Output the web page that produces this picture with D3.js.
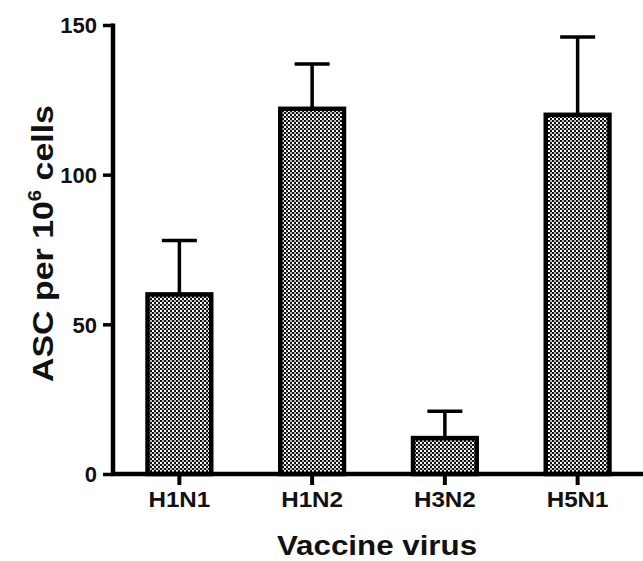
<!DOCTYPE html>
<html><head><meta charset="utf-8">
<script src="https://cdn.jsdelivr.net/npm/d3@7"></script>
<style>body{margin:0;background:#fff}svg{display:block}text{font-family:"Liberation Sans",Arial,sans-serif;font-weight:bold;fill:#111}</style>
</head><body>
<script>
const categories = ["H1N1","H1N2","H3N2","H5N1"];
const means = [60,122,12,120];
const upperErr = [78,137,21,146];
const yTicks = [0,50,100,150];

const W=643,H=561;
const svg=d3.select("body").append("svg").attr("width",W).attr("height",H);
const defs=svg.append("defs");
const pat=defs.append("pattern").attr("id","chk").attr("patternUnits","userSpaceOnUse").attr("width",4).attr("height",4);
pat.append("rect").attr("width",4).attr("height",4).attr("fill","#fff");
pat.append("rect").attr("x",0).attr("y",0).attr("width",2).attr("height",2).attr("fill","#111");
pat.append("rect").attr("x",2).attr("y",2).attr("width",2).attr("height",2).attr("fill","#111");
pat.append("rect").attr("x",2).attr("y",0).attr("width",2).attr("height",2).attr("fill","#bbb");

const axisX=113, y0=474;
const x=d3.scaleBand().domain(categories).range([axisX,644]).padding(0);
const y=d3.scaleLinear().domain([0,150]).range([y0,25]);
const barW=x.bandwidth()*0.48;

const g=svg.append("g");
categories.forEach((c,i)=>{
  const cx=x(c)+x.bandwidth()/2;
  g.append("line").attr("x1",cx).attr("x2",cx).attr("y1",y(means[i])).attr("y2",y(upperErr[i]))
    .attr("stroke","#000").attr("stroke-width",3.5);
  g.append("line").attr("x1",cx-17.5).attr("x2",cx+17.5).attr("y1",y(upperErr[i])).attr("y2",y(upperErr[i]))
    .attr("stroke","#000").attr("stroke-width",3.5);
  g.append("rect").attr("x",cx-barW/2).attr("y",y(means[i])).attr("width",barW).attr("height",y(0)-y(means[i]))
    .attr("fill","url(#chk)").attr("stroke","#000").attr("stroke-width",4.5);
});

// y axis
const ya=svg.append("g").attr("transform",`translate(${axisX},0)`);
ya.call(d3.axisLeft(y).tickValues(yTicks).tickSize(10).tickPadding(6));
ya.select(".domain").remove();
ya.append("line").attr("x1",0).attr("x2",0).attr("y1",y(150)-1.5).attr("y2",y(0)+2).attr("stroke","#000").attr("stroke-width",4.5);
ya.selectAll(".tick line").attr("stroke","#000").attr("stroke-width",3.5);
ya.selectAll(".tick text").attr("font-size",22).attr("fill","#111").attr("dy","0.36em");

// x axis
const xa=svg.append("g").attr("transform",`translate(0,${y0})`);
xa.call(d3.axisBottom(x).tickSize(11).tickPadding(6));
xa.select(".domain").remove();
xa.append("line").attr("x1",axisX-2).attr("x2",643).attr("y1",0).attr("y2",0).attr("stroke","#000").attr("stroke-width",4.5);
xa.selectAll(".tick line").attr("stroke","#000").attr("stroke-width",4);
xa.selectAll(".tick text").attr("font-size",22).attr("fill","#111").attr("dy",0)
  .attr("y",33).attr("x",0).attr("transform","scale(1.1,1)");

// x title
svg.append("text").attr("transform",`translate(377,555) scale(1.16,1)`).attr("text-anchor","middle")
  .attr("font-size",27).text("Vaccine virus");

// y title
const yt=svg.append("text").attr("transform",`translate(53,243.5) rotate(-90) scale(1.13,1)`).attr("text-anchor","middle")
  .attr("font-size",30);
yt.append("tspan").text("ASC per 10");
yt.append("tspan").attr("font-size",18).attr("dy",-12).text("6");
yt.append("tspan").attr("dy",12).text(" cells");
</script>
</body></html>
